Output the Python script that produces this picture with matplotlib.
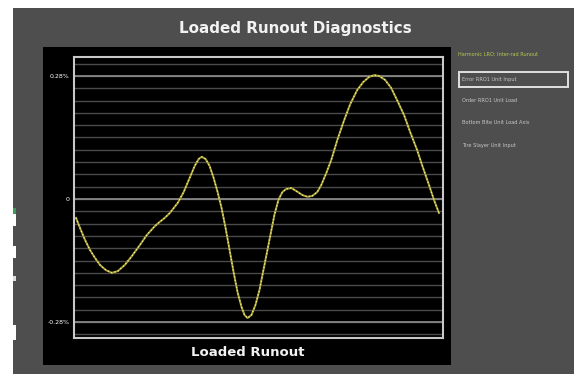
import matplotlib
matplotlib.use("Agg")
import matplotlib.pyplot as plt
from matplotlib.patches import Rectangle

# ── Data ──────────────────────────────────────────────────────────────────────
# runout trace over one wheel revolution (degrees, % of radius)
angle = [0, 3.96, 8.90, 13.85, 18.79, 23.74, 29.67, 35.60, 41.54, 48.46,
         55.38, 63.30, 70.22, 78.13, 83.08, 88.02, 92.97, 100.88, 106.81,
         112.75, 117.69, 121.65, 124.62, 128.57, 132.53, 136.48, 140.44,
         144.40, 148.35, 152.31, 156.26, 160.22, 164.18, 167.14, 170.11,
         174.07, 178.02, 181.98, 186.92, 191.87, 196.81, 200.77, 204.73,
         208.68, 213.63, 218.57, 224.51, 229.45, 234.40, 239.34, 243.30,
         248.24, 253.19, 259.12, 266.04, 271.98, 278.90, 284.84, 290.77,
         295.71, 300.66, 306.59, 312.53, 318.46, 325.38, 331.32, 338.24,
         344.18, 350.11, 355.05, 360.0]
runout = [-0.043, -0.066, -0.093, -0.116, -0.134, -0.150, -0.162, -0.168,
          -0.164, -0.150, -0.130, -0.105, -0.082, -0.062, -0.052, -0.043,
          -0.032, -0.009, 0.016, 0.048, 0.075, 0.091, 0.096, 0.091, 0.075,
          0.048, 0.016, -0.021, -0.066, -0.116, -0.166, -0.212, -0.246,
          -0.264, -0.271, -0.264, -0.241, -0.207, -0.150, -0.093, -0.036,
          -0.002, 0.016, 0.023, 0.025, 0.018, 0.009, 0.005, 0.007, 0.016,
          0.032, 0.059, 0.089, 0.134, 0.180, 0.216, 0.248, 0.266, 0.278,
          0.282, 0.280, 0.271, 0.253, 0.225, 0.191, 0.153, 0.112, 0.071,
          0.032, -0.002, -0.032]

tick_vals = [-0.28, 0, 0.28]
tick_labels = ["-0.28%", "0", "0.28%"]
grid_vals = [round(-0.308 + 0.028 * i, 3) for i in range(23)]

menu_title = "Harmonic LRO: Inter-rad Runout"
menu_items = ["Error RRO1 Unit Input", "Order RRO1 Unit Load",
              "Bottom Bite Unit Load Axis", "Tire Slayer Unit Input"]

# ── Figure / panels ───────────────────────────────────────────────────────────
W, H = 574, 381
fig = plt.figure(figsize=(W / 100, H / 100), dpi=100, facecolor="white")

def px_rect(x0, y0, x1, y1, z=-10, **kw):
    # rectangle in pixel coords measured from the top-left corner
    fig.patches.append(Rectangle((x0 / W, 1 - y1 / H), (x1 - x0) / W,
                                 (y1 - y0) / H, transform=fig.transFigure,
                                 zorder=z, **kw))

px_rect(13, 8, 574, 374, facecolor="#4e4e4e", edgecolor="none")
px_rect(43, 47, 451, 365, facecolor="black", edgecolor="none", z=-9)

# small marks on the left strip
for y0, y1, c in [(208, 214, "#3a9a5a"), (214, 226, "white"), (246, 258, "white"),
                  (276, 281, "#dddddd"), (325, 340, "white")]:
    px_rect(13, y0, 16, y1, facecolor=c, edgecolor="none", z=-8)

fig.text(295 / W, 1 - 28 / H, "Loaded Runout Diagnostics", color="#f2f2f2",
         fontsize=10.9, fontweight="bold", ha="center", va="center")

# ── Plot area ─────────────────────────────────────────────────────────────────
ax = fig.add_axes([74 / W, 1 - 338 / H, 369 / W, 281 / H])
ax.set_facecolor("black")
ax.set_xlim(-2, 364)
ax.set_ylim(-0.3164, 0.3232)

for g in grid_vals:
    ax.axhline(g, color="#4a4a4a", lw=1.0, zorder=1)
for g in tick_vals:
    ax.axhline(g, color="#8e8e8e", lw=1.2, zorder=1)

ax.plot(angle, runout, color="#a8a030", lw=1.4, zorder=3)
ax.plot(angle, runout, color="#f4f0a0", lw=0.9, dashes=(1.0, 1.8), zorder=4)

ax.set_yticks(tick_vals)
ax.set_yticklabels(tick_labels)
ax.set_xticks([])
ax.tick_params(axis="y", length=0, pad=3, labelsize=4.5, labelcolor="white")
for s in ax.spines.values():
    s.set_color("#c8c8c8")
    s.set_linewidth(1.5)

fig.text(248 / W, 1 - 352 / H, "Loaded Runout", color="#f2f2f2",
         fontsize=9.5, fontweight="bold", ha="center", va="center")

# ── Side menu ─────────────────────────────────────────────────────────────────
fig.text(458 / W, 1 - 55 / H, menu_title, color="#b8c850", fontsize=3.6,
         va="center")
px_rect(459, 72, 568, 87, facecolor="none", edgecolor="#e0e0e0", lw=1.4, z=2)
for y, item in zip([79, 101, 122, 146], menu_items):
    fig.text(462 / W, 1 - y / H, item, color="#c8c8c8", fontsize=3.6,
             va="center")

fig.savefig("out.png", dpi=100, facecolor="white")
